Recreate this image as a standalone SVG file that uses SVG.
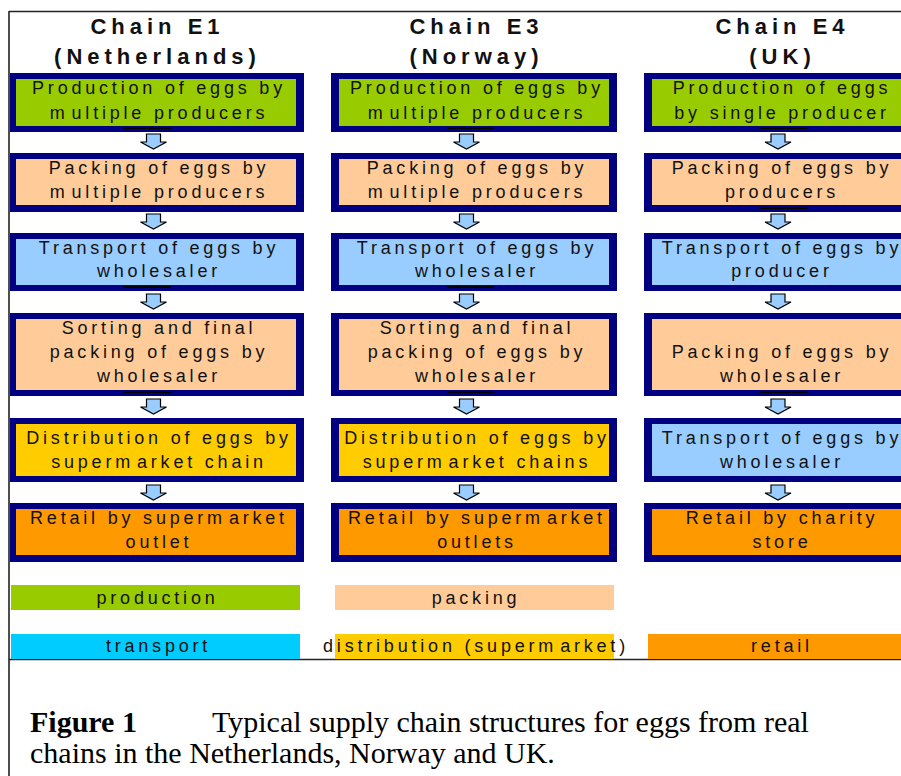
<svg xmlns="http://www.w3.org/2000/svg" width="901" height="776" viewBox="0 0 901 776">
<style>
.frame{stroke:#222;stroke-width:1.6;fill:none}
.nb{fill:#000080}
.prod{fill:#99cc00}
.pack{fill:#ffcc99}
.trans{fill:#99ccff}
.dist{fill:#ffcc00}
.ret{fill:#ff9900}
.tr2{fill:#00ccff}
.t{font-family:"Liberation Sans",Arial,sans-serif;font-size:18px;letter-spacing:3.8px;fill:#111;text-anchor:middle}
.h{font-family:"Liberation Sans",Arial,sans-serif;font-size:22px;font-weight:bold;letter-spacing:5px;fill:#111;text-anchor:middle}
.cap{font-family:"Liberation Serif","Times New Roman",serif;font-size:30px;fill:#000}
.tick{stroke:#000;stroke-width:2}
.arr{fill:#99ccff;stroke:#000;stroke-width:1.2;stroke-linejoin:miter}
</style>
<defs>
<path id="dn" d="M-7,0 H7 V8 H13 L0,15 L-13,8 H-7 Z"/>
</defs>
<rect x="0" y="0" width="901" height="776" fill="#fff"/>
<g id="frame">
<line class="frame" x1="9" y1="11.5" x2="901" y2="11.5"/>
<line class="frame" x1="9" y1="11" x2="9" y2="776"/>
<line class="frame" x1="9" y1="659.5" x2="901" y2="659.5"/>
</g>
<g id="titles">
<text class="h" x="157.5" y="34">Chain E1</text>
<text class="h" x="157.5" y="64">(Netherlands)</text>
<text class="h" x="476.5" y="34">Chain E3</text>
<text class="h" x="476.5" y="64">(Norway)</text>
<text class="h" x="782.5" y="34">Chain E4</text>
<text class="h" x="782.5" y="64">(UK)</text>
</g>
<!-- Column E1 -->
<g id="e1-production"><rect class="nb" x="10" y="73" width="294" height="59"/><rect class="prod" x="16" y="79" width="280" height="47"/><text class="t" x="159" y="94">Production of eggs by</text><text class="t" x="159" y="119">m<tspan dx="3">ultiple producers</tspan></text></g>
<g id="e1-packing"><rect class="nb" x="10" y="153" width="294" height="59"/><rect class="pack" x="16" y="159" width="280" height="46"/><text class="t" x="159" y="174">Packing of eggs by</text><text class="t" x="159" y="198">m<tspan dx="3">ultiple producers</tspan></text></g>
<g id="e1-transport"><rect class="nb" x="10" y="233" width="294" height="58"/><rect class="trans" x="16" y="239" width="280" height="46"/><text class="t" x="159" y="254">Transport of eggs by</text><text class="t" x="159" y="277">wholesaler</text></g>
<g id="e1-sorting"><rect class="nb" x="10" y="313" width="294" height="83"/><rect class="pack" x="16" y="319" width="280" height="71"/><text class="t" x="159" y="334">Sorting and final</text><text class="t" x="159" y="358">packing of eggs by</text><text class="t" x="159" y="382">wholesaler</text></g>
<g id="e1-distribution"><rect class="nb" x="10" y="418" width="294" height="64"/><rect class="dist" x="16" y="424" width="280" height="52"/><text class="t" x="159" y="444">Distribution of eggs by</text><text class="t" x="159" y="468">superm<tspan dx="3">arket chain</tspan></text></g>
<g id="e1-retail"><rect class="nb" x="10" y="503" width="294" height="59"/><rect class="ret" x="16" y="509" width="280" height="46"/><text class="t" x="159" y="524">Retail by superm<tspan dx="3">arket</tspan></text><text class="t" x="159" y="548">outlet</text></g>
<!-- Column E3 -->
<g id="e3-production"><rect class="nb" x="331" y="73" width="286" height="59"/><rect class="prod" x="339" y="79" width="270" height="47"/><text class="t" x="477" y="94">Production of eggs by</text><text class="t" x="477" y="119">m<tspan dx="3">ultiple producers</tspan></text></g>
<g id="e3-packing"><rect class="nb" x="331" y="153" width="286" height="59"/><rect class="pack" x="339" y="159" width="270" height="46"/><text class="t" x="477" y="174">Packing of eggs by</text><text class="t" x="477" y="198">m<tspan dx="3">ultiple producers</tspan></text></g>
<g id="e3-transport"><rect class="nb" x="331" y="233" width="286" height="58"/><rect class="trans" x="339" y="239" width="270" height="46"/><text class="t" x="477" y="254">Transport of eggs by</text><text class="t" x="477" y="277">wholesaler</text></g>
<g id="e3-sorting"><rect class="nb" x="331" y="313" width="286" height="83"/><rect class="pack" x="339" y="319" width="270" height="71"/><text class="t" x="477" y="334">Sorting and final</text><text class="t" x="477" y="358">packing of eggs by</text><text class="t" x="477" y="382">wholesaler</text></g>
<g id="e3-distribution"><rect class="nb" x="331" y="418" width="286" height="64"/><rect class="dist" x="339" y="424" width="270" height="52"/><text class="t" x="477" y="444">Distribution of eggs by</text><text class="t" x="477" y="468">superm<tspan dx="3">arket chains</tspan></text></g>
<g id="e3-retail"><rect class="nb" x="331" y="503" width="286" height="59"/><rect class="ret" x="339" y="509" width="270" height="46"/><text class="t" x="477" y="524">Retail by superm<tspan dx="3">arket</tspan></text><text class="t" x="477" y="548">outlets</text></g>
<!-- Column E4 -->
<g id="e4-production"><rect class="nb" x="644" y="73" width="272" height="59"/><rect class="prod" x="652" y="79" width="256" height="47"/><text class="t" x="782" y="94">Production of eggs</text><text class="t" x="782" y="119">by single producer</text></g>
<g id="e4-packing"><rect class="nb" x="644" y="153" width="272" height="59"/><rect class="pack" x="652" y="159" width="256" height="46"/><text class="t" x="782" y="174">Packing of eggs by</text><text class="t" x="782" y="198">producers</text></g>
<g id="e4-transport"><rect class="nb" x="644" y="233" width="272" height="58"/><rect class="trans" x="652" y="239" width="256" height="46"/><text class="t" x="782" y="254">Transport of eggs by</text><text class="t" x="782" y="277">producer</text></g>
<g id="e4-packing-wholesaler"><rect class="nb" x="644" y="313" width="272" height="83"/><rect class="pack" x="652" y="319" width="256" height="71"/><text class="t" x="782" y="358">Packing of eggs by</text><text class="t" x="782" y="382">wholesaler</text></g>
<g id="e4-transport-wholesaler"><rect class="nb" x="644" y="418" width="272" height="64"/><rect class="trans" x="652" y="424" width="256" height="52"/><text class="t" x="782" y="444">Transport of eggs by</text><text class="t" x="782" y="468">wholesaler</text></g>
<g id="e4-retail"><rect class="nb" x="644" y="503" width="272" height="59"/><rect class="ret" x="652" y="509" width="256" height="46"/><text class="t" x="782" y="524">Retail by charity</text><text class="t" x="782" y="548">store</text></g>
<g id="connectors">
<g class="tick">
<line x1="123" y1="128" x2="171" y2="128"/><line x1="123" y1="287" x2="171" y2="287"/><line x1="123" y1="392" x2="171" y2="392"/>
<line x1="447" y1="128" x2="494" y2="128"/><line x1="447" y1="287" x2="494" y2="287"/><line x1="447" y1="392" x2="494" y2="392"/>
<line x1="760" y1="128" x2="808" y2="128"/><line x1="760" y1="208" x2="808" y2="208"/><line x1="760" y1="392" x2="808" y2="392"/>
</g>
<g class="arr">
<use href="#dn" x="153.5" y="134"/><use href="#dn" x="153.5" y="214"/><use href="#dn" x="153.5" y="294"/><use href="#dn" x="153.5" y="399"/><use href="#dn" x="153.5" y="485"/>
<use href="#dn" x="466.5" y="134"/><use href="#dn" x="466.5" y="214"/><use href="#dn" x="466.5" y="294"/><use href="#dn" x="466.5" y="399"/><use href="#dn" x="466.5" y="485"/>
<use href="#dn" x="778" y="134"/><use href="#dn" x="778" y="214"/><use href="#dn" x="778" y="294"/><use href="#dn" x="778" y="399"/><use href="#dn" x="778" y="485"/>
</g>
</g>
<g id="legend">
<rect class="prod" x="11" y="585" width="289" height="25"/>
<text class="t" x="157.5" y="604">production</text>
<rect class="pack" x="335" y="585" width="279" height="25"/>
<text class="t" x="476" y="604">packing</text>
<rect class="tr2" x="11" y="634" width="289" height="25"/>
<text class="t" x="158.5" y="652">transport</text>
<rect class="dist" x="335" y="634" width="279" height="25"/>
<text class="t" x="476" y="652">distribution (superm<tspan dx="3">arket)</tspan></text>
<rect class="ret" x="648" y="634" width="253" height="25"/>
<text class="t" x="782" y="652">retail</text>
</g>
<g id="caption">
<text class="cap" x="30" y="732"><tspan font-weight="bold">Figure 1</tspan></text>
<text class="cap" x="212" y="732">Typical supply chain structures for eggs from real</text>
<text class="cap" x="30" y="763">chains in the Netherlands, Norway and UK.</text>
</g>
</svg>
